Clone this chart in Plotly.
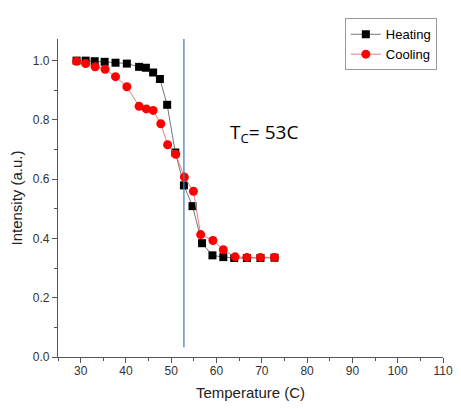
import plotly.graph_objects as go

heat_T = [29.1, 31.1, 33.1, 35.3, 37.7, 40.2, 42.9, 44.4, 46.0, 47.5, 49.1, 50.9, 52.8, 54.7, 56.8, 59.1, 61.5, 63.9, 66.7, 69.7, 72.8]
heat_I = [1.0, 1.0, 0.998, 0.996, 0.993, 0.99, 0.979, 0.976, 0.96, 0.938, 0.851, 0.69, 0.579, 0.509, 0.384, 0.343, 0.337, 0.334, 0.334, 0.334, 0.335]

cool_T = [29.1, 31.1, 33.2, 35.4, 37.7, 40.2, 42.9, 44.5, 46.0, 47.7, 49.2, 51.0, 52.9, 54.9, 56.5, 59.2, 61.5, 64.1, 66.7, 69.7, 72.8]
cool_I = [0.998, 0.99, 0.979, 0.971, 0.946, 0.912, 0.846, 0.837, 0.832, 0.787, 0.716, 0.684, 0.607, 0.559, 0.413, 0.393, 0.362, 0.338, 0.336, 0.336, 0.336]

tc_T = 52.8
tc_range = [0.033, 1.073]

fig = go.Figure()
fig.add_trace(go.Scatter(x=heat_T, y=heat_I, mode="lines+markers", name="Heating",
                         line=dict(color="#777777", width=1),
                         marker=dict(symbol="square", size=8, color="black")))
fig.add_trace(go.Scatter(x=cool_T, y=cool_I, mode="lines+markers", name="Cooling",
                         line=dict(color="#e08080", width=1),
                         marker=dict(symbol="circle", size=9, color="#ff0000")))
fig.add_trace(go.Scatter(x=[tc_T, tc_T], y=tc_range, mode="lines", showlegend=False,
                         line=dict(color="#4a7ebb", width=1.3), hoverinfo="skip"))

fig.add_annotation(x=70.5, y=0.757, xref="x", yref="y", showarrow=False,
                   text="T<sub>C</sub>= 53C", font=dict(family="Open Sans", size=19, color="black"))

axis_common = dict(showline=True, linecolor="#555555", linewidth=1.2, ticks="outside",
                   ticklen=5, tickcolor="#555555", showgrid=False, zeroline=False,
                   tickfont=dict(family="Liberation Sans", size=12, color="#333333"),
                   mirror=False, automargin=False)

fig.update_layout(
    width=445, height=393,
    margin=dict(l=50, r=10, t=27, b=44),
    paper_bgcolor="white", plot_bgcolor="white",
    font=dict(family="Liberation Sans", color="#222222"),
    xaxis=dict(range=[25, 110], dtick=10, tick0=0, ticklabelstandoff=-3,
               minor=dict(dtick=5, ticks="outside", ticklen=3, tickcolor="#555555"),
               title=dict(text="Temperature (C)", font=dict(size=15, color="#222222"), standoff=11),
               **axis_common),
    yaxis=dict(range=[0, 1.073], dtick=0.2, tick0=0, tickformat=".1f",
               minor=dict(dtick=0.1, ticks="outside", ticklen=3, tickcolor="#555555"),
               title=dict(text="Intensity (a.u.)", font=dict(size=15, color="#222222"), standoff=8),
               **axis_common),
    legend=dict(x=0.745, y=1.065, xanchor="left", yanchor="top",
                bordercolor="#999999", borderwidth=1, bgcolor="white",
                font=dict(family="Liberation Sans", size=13, color="black"),
                tracegroupgap=0, itemwidth=30),
    showlegend=True,
)

fig.write_html("out.html")
